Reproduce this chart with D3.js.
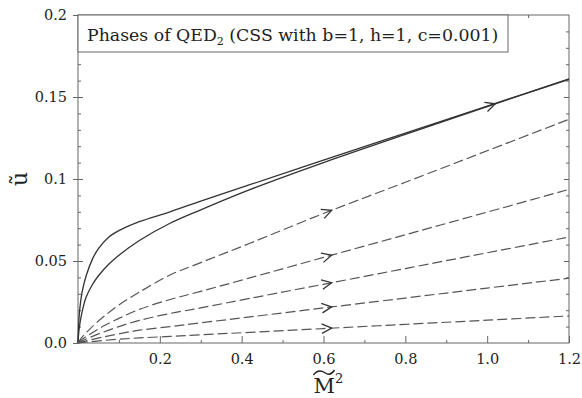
<!DOCTYPE html>
<html>
<head>
<meta charset="utf-8">
<script src="https://cdn.jsdelivr.net/npm/d3@7"></script>
<style>
  html, body { margin: 0; padding: 0; background: #fff; }
  svg { display: block; }
</style>
</head>
<body>
<svg id="chart" width="582" height="398"></svg>
<script>
// ---- data ----
const solidM  = [0, 0.003, 0.01, 0.02, 0.035, 0.05, 0.075, 0.1, 0.15, 0.225, 0.3, 0.42, 0.6, 0.8, 1.0, 1.2];
const solidU1 = [0, 0.017, 0.031, 0.041, 0.051, 0.0575, 0.0645, 0.0685, 0.074, 0.080, 0.0865, 0.0965, 0.1115, 0.128, 0.1445, 0.161];
const solidU2 = [0, 0.009, 0.019, 0.028, 0.0355, 0.041, 0.048, 0.0535, 0.0625, 0.073, 0.0812, 0.0935, 0.110, 0.1272, 0.1442, 0.1608];

const dashM  = [0, 0.01, 0.03, 0.06, 0.1, 0.15, 0.225, 0.3, 0.42, 0.6, 0.8, 1.0, 1.2];
const dashU1 = [0, 0.0036, 0.0088, 0.0155, 0.0232, 0.0310, 0.0415, 0.0490, 0.0608, 0.0790, 0.0980, 0.1172, 0.1364];
const dashU2 = [0, 0.0022, 0.0055, 0.0100, 0.0150, 0.0205, 0.0265, 0.0315, 0.0397, 0.0522, 0.0660, 0.0798, 0.0937];
const dashU3 = [0, 0.0013, 0.0035, 0.0065, 0.0100, 0.0138, 0.0180, 0.0214, 0.0272, 0.0358, 0.0454, 0.0550, 0.0646];
const dashU4 = [0, 0.0007, 0.0019, 0.0036, 0.0056, 0.0078, 0.0100, 0.0123, 0.0159, 0.0214, 0.0274, 0.0335, 0.0395];
const dashU5 = [0, 0.0003, 0.0008, 0.0015, 0.0023, 0.0031, 0.0040, 0.0050, 0.0065, 0.0088, 0.0114, 0.0139, 0.0165];

// where the flow arrows sit (M value of the tip)
const solidArrowM = 1.02;
const dashArrowM = 0.62;

const xMajor = [0.2, 0.4, 0.6, 0.8, 1.0, 1.2];
const xMajorLabels = ["0.2", "0.4", "0.6", "0.8", "1.0", "1.2"];
const xMinor = [0.1, 0.3, 0.5, 0.7, 0.9, 1.1];
const yMajor = [0, 0.05, 0.1, 0.15, 0.2];
const yMajorLabels = ["0.0", "0.05", "0.1", "0.15", "0.2"];
const yMinor = d3.range(1, 20).map(i => i / 100).filter(v => Math.abs(v * 20 - Math.round(v * 20)) > 1e-6);

const titleText = "Phases of QED";

// ---- layout ----
const width = 582, height = 398;
const margin = {top: 15, right: 13, bottom: 55, left: 78};
const serif = "'DejaVu Serif', 'Liberation Serif', serif";
const axisColor = "#666";

const x = d3.scaleLinear().domain([0, 1.2]).range([margin.left, width - margin.right]);
const y = d3.scaleLinear().domain([0, 0.2]).range([height - margin.bottom, margin.top]);

const svg = d3.select("#chart");

// frame
svg.append("rect")
    .attr("x", x(0)).attr("y", y(0.2))
    .attr("width", x(1.2) - x(0)).attr("height", y(0) - y(0.2))
    .attr("fill", "none").attr("stroke", axisColor).attr("stroke-width", 1);

function tickStyle(g) {
  g.select(".domain").remove();
  g.selectAll("line").attr("stroke", axisColor);
  g.selectAll("text").attr("fill", "#222").style("font-family", serif).style("font-size", "14.5px");
}

// left axis: major ticks outward with labels, inward stubs, minor inward
svg.append("g").attr("transform", `translate(${x(0)},0)`)
    .call(d3.axisLeft(y).tickValues(yMajor).tickSize(5).tickPadding(6)
      .tickFormat((d, i) => yMajorLabels[i]))
    .call(tickStyle);
svg.append("g").attr("transform", `translate(${x(0)},0)`)
    .call(d3.axisLeft(y).tickValues(yMajor.slice(1, 4)).tickSize(-5).tickFormat(""))
    .call(tickStyle);
svg.append("g").attr("transform", `translate(${x(0)},0)`)
    .call(d3.axisLeft(y).tickValues(yMinor).tickSize(-3).tickFormat(""))
    .call(tickStyle);

// right axis ticks (inward)
svg.append("g").attr("transform", `translate(${x(1.2)},0)`)
    .call(d3.axisRight(y).tickValues(yMajor.slice(1, 4)).tickSize(-5).tickFormat(""))
    .call(tickStyle);
svg.append("g").attr("transform", `translate(${x(1.2)},0)`)
    .call(d3.axisRight(y).tickValues(yMinor).tickSize(-3).tickFormat(""))
    .call(tickStyle);

// bottom axis: ticks inward, labels below
svg.append("g").attr("transform", `translate(0,${y(0)})`)
    .call(d3.axisBottom(x).tickValues(xMajor).tickSize(-7).tickFormat(""))
    .call(tickStyle);
svg.append("g").attr("transform", `translate(0,${y(0)})`)
    .call(d3.axisBottom(x).tickValues(xMinor).tickSize(-3).tickFormat(""))
    .call(tickStyle);
svg.append("g").attr("transform", `translate(0,${y(0)})`)
    .call(d3.axisBottom(x).tickValues(xMajor).tickSize(0).tickPadding(11)
      .tickFormat((d, i) => xMajorLabels[i]))
    .call(tickStyle);

// top axis ticks (inward)
svg.append("g").attr("transform", `translate(0,${y(0.2)})`)
    .call(d3.axisTop(x).tickValues(xMajor.slice(0, 5)).tickSize(-6).tickFormat(""))
    .call(tickStyle);
svg.append("g").attr("transform", `translate(0,${y(0.2)})`)
    .call(d3.axisTop(x).tickValues(xMinor).tickSize(-3).tickFormat(""))
    .call(tickStyle);

// ---- curves ----
const line = d3.line().x(d => x(d[0])).y(d => y(d[1])).curve(d3.curveCatmullRom.alpha(0.5));

const curves = [
  {m: solidM, u: solidU1, dash: null, arrow: null},
  {m: solidM, u: solidU2, dash: null, arrow: solidArrowM},
  {m: dashM, u: dashU1, dash: "10,4", arrow: dashArrowM},
  {m: dashM, u: dashU2, dash: "10,4", arrow: dashArrowM},
  {m: dashM, u: dashU3, dash: "10,4", arrow: dashArrowM},
  {m: dashM, u: dashU4, dash: "10,4", arrow: dashArrowM},
  {m: dashM, u: dashU5, dash: "10,4", arrow: dashArrowM}
];

const plot = svg.append("g");
curves.forEach(c => {
  const pts = c.m.map((m, i) => [m, c.u[i]]);
  plot.append("path")
      .datum(pts)
      .attr("d", line)
      .attr("fill", "none")
      .attr("stroke", c.dash ? "#555" : "#333")
      .attr("stroke-width", c.dash ? 1.2 : 1.3)
      .attr("stroke-dasharray", c.dash);

  if (c.arrow != null) {
    const interp = m => d3.scaleLinear().domain(c.m).range(c.u)(m);
    const tx = x(c.arrow), ty = y(interp(c.arrow));
    const bx = x(c.arrow - 0.03), by = y(interp(c.arrow - 0.03));
    const ang = Math.atan2(ty - by, tx - bx);
    const len = 11, spread = 0.45;
    const p1 = [tx - len * Math.cos(ang - spread), ty - len * Math.sin(ang - spread)];
    const p2 = [tx - len * Math.cos(ang + spread), ty - len * Math.sin(ang + spread)];
    plot.append("path")
        .attr("d", `M${p1[0]},${p1[1]}L${tx},${ty}L${p2[0]},${p2[1]}`)
        .attr("fill", "none")
        .attr("stroke", "#333")
        .attr("stroke-width", 1.3)
        .attr("stroke-linejoin", "miter");
  }
});

// ---- title box ----
const box = svg.append("g");
box.append("rect")
    .attr("x", x(0)).attr("y", y(0.2))
    .attr("width", 430).attr("height", 37)
    .attr("fill", "#fff").attr("stroke", axisColor).attr("stroke-width", 1);
const title = box.append("text")
    .attr("x", x(0) + 9).attr("y", y(0.2) + 26)
    .attr("fill", "#222")
    .style("font-family", serif)
    .style("font-size", "16px");
title.append("tspan").text(titleText);
title.append("tspan").attr("dy", 4).style("font-size", "11px").text("2");
title.append("tspan").attr("dy", -4).text(" (CSS with b=1, h=1, c=0.001)");
// fit the title to the width it has in the picture
const tw = title.node().getComputedTextLength();
title.style("font-size", (16 * 412 / tw).toFixed(2) + "px");

// ---- axis labels ----
svg.append("text")
    .attr("transform", `translate(27,${y(0.1)}) rotate(-90)`)
    .attr("text-anchor", "middle")
    .attr("fill", "#222")
    .style("font-family", serif)
    .style("font-size", "22px")
    .text("ũ");

const mx = x(0.6);
const xl = svg.append("text")
    .attr("x", mx - 10)
    .attr("y", 393)
    .attr("fill", "#222")
    .style("font-family", serif)
    .style("font-size", "21px");
xl.append("tspan").text("M");
xl.append("tspan").attr("dy", -10).style("font-size", "13px").text("2");
// wide tilde accent over the M
svg.append("path")
    .attr("d", `M${mx - 10},${375} C${mx - 6},${369.5} ${mx - 2},${370.5} ${mx + 1},${372.5}` +
               ` S${mx + 7},${376} ${mx + 11},${370}`)
    .attr("fill", "none")
    .attr("stroke", "#222")
    .attr("stroke-width", 1.4);
</script>
</body>
</html>
